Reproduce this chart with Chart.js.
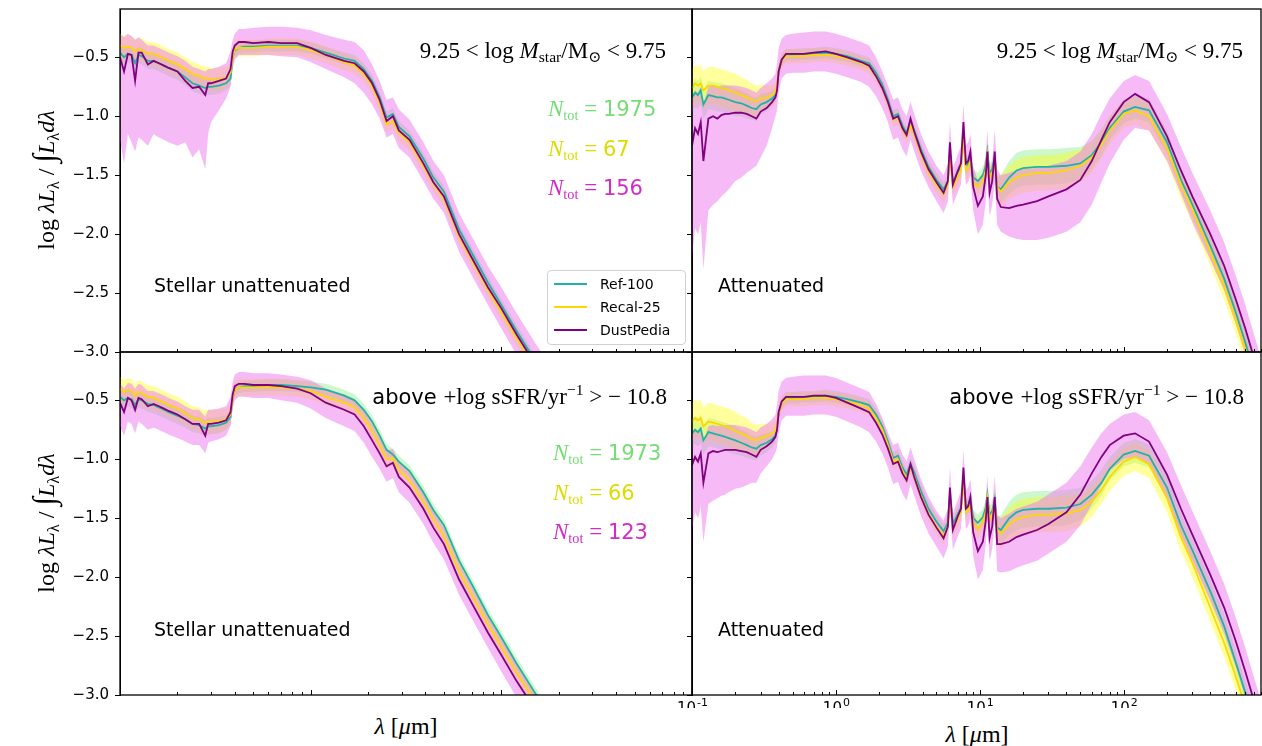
<!DOCTYPE html>
<html>
<head>
<meta charset="utf-8">
<script src="https://cdn.jsdelivr.net/npm/chart.js@4.4.0/dist/chart.umd.min.js"></script>
<style>
  body { margin: 0; width: 1262px; height: 746px; overflow: hidden; position: relative; background: #fff; font-family: "DejaVu Sans", sans-serif; }
  canvas { position: absolute; }
  .t { position: absolute; white-space: nowrap; line-height: 1; color: #000; }
  .serif { font-family: "Liberation Serif", "DejaVu Serif", serif; }
  .t sub { font-size: 68%; vertical-align: -0.28em; }
  .t sup { font-size: 68%; vertical-align: 0.55em; }
  #legend { position: absolute; border: 1px solid #d0d0d0; border-radius: 4px; background: rgba(255,255,255,0.85); font-size: 14px; }
  #legend div { position: absolute; left: 52px; line-height: 1; }
  #legend span { position: absolute; left: 6px; width: 33px; height: 0; border-top: 2px solid; }
</style>
</head>
<body>
<canvas id="tl" width="684" height="365" style="left:10px;top:0px"></canvas>
<canvas id="tr" width="601" height="365" style="left:662px;top:0px"></canvas>
<canvas id="bl" width="684" height="365" style="left:10px;top:343px"></canvas>
<canvas id="br" width="601" height="365" style="left:662px;top:343px"></canvas>

<div class="t serif" style="left:45px;top:180px;font-size:24px;transform:translate(-50%,-50%) rotate(-90deg)">log <i>λL</i><sub>λ</sub> / <span style="font-size:1.3em">∫</span><i>L</i><sub>λ</sub><i>dλ</i></div>
<div class="t serif" style="left:45px;top:523px;font-size:24px;transform:translate(-50%,-50%) rotate(-90deg)">log <i>λL</i><sub>λ</sub> / <span style="font-size:1.3em">∫</span><i>L</i><sub>λ</sub><i>dλ</i></div>

<div class="t serif" style="left:406px;top:726px;font-size:24px;transform:translate(-50%,-50%)"><i>λ</i> [<i>μ</i>m]</div>
<div class="t serif" style="left:977px;top:734px;font-size:24px;transform:translate(-50%,-50%)"><i>λ</i> [<i>μ</i>m]</div>

<div class="t serif" style="right:596px;top:39px;font-size:23px">9.25 &lt; log <i>M</i><sub>star</sub>/M<sub>⊙</sub> &lt; 9.75</div>
<div class="t serif" style="right:19px;top:39px;font-size:23px">9.25 &lt; log <i>M</i><sub>star</sub>/M<sub>⊙</sub> &lt; 9.75</div>
<div class="t" style="right:595px;top:382px;font-size:21px">above <span class="serif" style="font-size:23px">+log sSFR/yr<sup>−1</sup> &gt; − 10.8</span></div>
<div class="t" style="right:18px;top:382px;font-size:21px">above <span class="serif" style="font-size:23px">+log sSFR/yr<sup>−1</sup> &gt; − 10.8</span></div>

<div class="t" style="left:548px;top:97px;font-size:21px;color:#74dd74"><i class="serif" style="font-size:23px">N</i><sub class="serif">tot</sub><span class="serif" style="font-size:23px"> = </span>1975</div>
<div class="t" style="left:548px;top:137px;font-size:21px;color:#dcdc00"><i class="serif" style="font-size:23px">N</i><sub class="serif">tot</sub><span class="serif" style="font-size:23px"> = </span>67</div>
<div class="t" style="left:548px;top:176px;font-size:21px;color:#d42ac8"><i class="serif" style="font-size:23px">N</i><sub class="serif">tot</sub><span class="serif" style="font-size:23px"> = </span>156</div>
<div class="t" style="left:553px;top:441px;font-size:21px;color:#74dd74"><i class="serif" style="font-size:23px">N</i><sub class="serif">tot</sub><span class="serif" style="font-size:23px"> = </span>1973</div>
<div class="t" style="left:553px;top:481px;font-size:21px;color:#dcdc00"><i class="serif" style="font-size:23px">N</i><sub class="serif">tot</sub><span class="serif" style="font-size:23px"> = </span>66</div>
<div class="t" style="left:553px;top:520px;font-size:21px;color:#d42ac8"><i class="serif" style="font-size:23px">N</i><sub class="serif">tot</sub><span class="serif" style="font-size:23px"> = </span>123</div>

<div class="t" style="left:154px;top:276px;font-size:19px">Stellar unattenuated</div>
<div class="t" style="left:154px;top:620px;font-size:19px">Stellar unattenuated</div>
<div class="t" style="left:718px;top:276px;font-size:19px">Attenuated</div>
<div class="t" style="left:718px;top:620px;font-size:19px">Attenuated</div>

<div id="legend" style="left:547px;top:270px;width:137px;height:73px">
  <span style="top:12px;border-color:lightseagreen"></span><div style="top:6px">Ref-100</div>
  <span style="top:35px;border-color:gold"></span><div style="top:29px">Recal-25</div>
  <span style="top:58px;border-color:purple"></span><div style="top:52px">DustPedia</div>
</div>

<script>
// wavelength grids, micron
const lamS = [0.10,0.105,0.11,0.115,0.12,0.125,0.13,0.14,0.15,0.16,
  0.17,0.18,0.20,0.22,0.24,0.26,0.28,0.29,0.30,0.33,
  0.36,0.38,0.39,0.40,0.42,0.45,0.50,0.60,0.70,0.85,
  1.0,1.2,1.5,1.7,1.9,2.1,2.3,2.5,2.7,2.9,
  3.3,3.9,4.4,5.0,6.0,7.0,8.5,10,12,15,20];
const lamA = [0.10,0.105,0.11,0.115,0.12,0.13,0.14,0.15,0.16,0.17,
  0.18,0.20,0.22,0.24,0.26,0.28,0.30,0.33,0.36,0.38,
  0.39,0.40,0.42,0.45,0.50,0.60,0.70,0.85,1.0,1.2,
  1.5,1.7,1.9,2.1,2.3,2.5,2.7,2.9,3.1,3.3,
  3.5,3.9,4.4,5.0,5.6,6.0,6.2,6.5,7.0,7.4,
  7.7,8.0,8.3,8.6,9.0,9.7,10.5,11.0,11.3,11.7,
  12.2,12.7,13.2,14,16,18,20,25,30,40,
  50,60,70,80,100,120,150,200,250,300,
  400,500,600,700,800,900];

// top left: stellar unattenuated, mass bin
const tlRef = [-0.46,-0.50,-0.47,-0.48,-0.55,-0.48,-0.49,-0.53,-0.53,-0.55,
  -0.57,-0.59,-0.62,-0.67,-0.72,-0.74,-0.76,-0.75,-0.75,-0.74,
  -0.72,-0.68,-0.50,-0.44,-0.42,-0.41,-0.41,-0.40,-0.40,-0.40,
  -0.42,-0.46,-0.51,-0.53,-0.60,-0.70,-0.84,-1.01,-0.98,-1.09,
  -1.17,-1.36,-1.52,-1.64,-1.96,-2.16,-2.41,-2.60,-2.82,-3.07,-3.38];
const tlRecal = [-0.40,-0.42,-0.41,-0.42,-0.45,-0.43,-0.44,-0.47,-0.47,-0.49,
  -0.51,-0.53,-0.56,-0.60,-0.64,-0.66,-0.68,-0.68,-0.69,-0.69,
  -0.67,-0.63,-0.50,-0.43,-0.42,-0.42,-0.42,-0.41,-0.41,-0.41,
  -0.44,-0.48,-0.54,-0.57,-0.64,-0.74,-0.89,-1.07,-1.04,-1.14,
  -1.22,-1.42,-1.57,-1.70,-2.02,-2.22,-2.47,-2.66,-2.88,-3.12,-3.42];
const tlDP = [-0.50,-0.62,-0.47,-0.48,-0.70,-0.46,-0.46,-0.56,-0.53,-0.55,
  -0.57,-0.59,-0.62,-0.70,-0.76,-0.75,-0.82,-0.72,-0.72,-0.70,
  -0.68,-0.60,-0.45,-0.40,-0.37,-0.37,-0.38,-0.37,-0.38,-0.38,
  -0.42,-0.48,-0.53,-0.55,-0.62,-0.72,-0.86,-1.04,-1.00,-1.12,
  -1.20,-1.40,-1.56,-1.68,-2.00,-2.20,-2.45,-2.63,-2.85,-3.10,-3.40];
const tlDPHi = [-0.30,-0.33,-0.30,-0.32,-0.35,-0.33,-0.35,-0.40,-0.40,-0.42,
  -0.44,-0.46,-0.49,-0.53,-0.58,-0.60,-0.62,-0.60,-0.60,-0.58,
  -0.55,-0.45,-0.35,-0.30,-0.26,-0.26,-0.25,-0.24,-0.24,-0.25,
  -0.27,-0.31,-0.35,-0.37,-0.44,-0.56,-0.70,-0.86,-0.84,-0.94,
  -1.03,-1.22,-1.38,-1.50,-1.82,-2.02,-2.27,-2.45,-2.67,-2.92,-3.22];
const tlDPLo = [-1.20,-1.40,-1.15,-1.22,-1.30,-1.18,-1.20,-1.25,-1.15,-1.18,
  -1.20,-1.22,-1.25,-1.22,-1.35,-1.28,-1.45,-1.15,-1.05,-0.95,
  -0.85,-0.75,-0.60,-0.52,-0.48,-0.48,-0.48,-0.48,-0.49,-0.50,
  -0.54,-0.60,-0.67,-0.72,-0.80,-0.90,-1.02,-1.18,-1.15,-1.27,
  -1.35,-1.55,-1.70,-1.82,-2.15,-2.35,-2.60,-2.80,-3.02,-3.27,-3.57];

// bottom left: stellar unattenuated, sSFR cut
const blRef = [-0.47,-0.50,-0.48,-0.49,-0.54,-0.49,-0.50,-0.53,-0.54,-0.56,
  -0.58,-0.60,-0.63,-0.66,-0.70,-0.71,-0.74,-0.72,-0.72,-0.71,
  -0.69,-0.64,-0.48,-0.41,-0.39,-0.38,-0.38,-0.37,-0.37,-0.38,
  -0.39,-0.41,-0.46,-0.50,-0.58,-0.68,-0.80,-0.92,-0.96,-1.02,
  -1.10,-1.28,-1.43,-1.56,-1.86,-2.06,-2.32,-2.51,-2.73,-2.98,-3.30];
const blRecal = [-0.40,-0.43,-0.41,-0.42,-0.46,-0.43,-0.44,-0.47,-0.48,-0.50,
  -0.52,-0.54,-0.57,-0.61,-0.65,-0.66,-0.69,-0.68,-0.68,-0.68,
  -0.66,-0.62,-0.48,-0.41,-0.39,-0.39,-0.39,-0.39,-0.39,-0.40,
  -0.42,-0.47,-0.52,-0.56,-0.65,-0.76,-0.88,-1.00,-0.99,-1.09,
  -1.18,-1.36,-1.51,-1.65,-1.95,-2.15,-2.40,-2.59,-2.81,-3.05,-3.36];
const blDP = [-0.52,-0.60,-0.48,-0.50,-0.58,-0.48,-0.49,-0.55,-0.53,-0.55,
  -0.57,-0.59,-0.62,-0.66,-0.70,-0.70,-0.80,-0.70,-0.70,-0.69,
  -0.67,-0.60,-0.45,-0.38,-0.36,-0.36,-0.37,-0.37,-0.38,-0.40,
  -0.44,-0.52,-0.58,-0.62,-0.72,-0.84,-0.95,-1.06,-1.03,-1.15,
  -1.24,-1.42,-1.58,-1.72,-2.02,-2.22,-2.47,-2.66,-2.88,-3.12,-3.42];
const blDPHi = [-0.36,-0.40,-0.35,-0.36,-0.40,-0.36,-0.37,-0.42,-0.42,-0.44,
  -0.46,-0.48,-0.51,-0.55,-0.58,-0.58,-0.64,-0.58,-0.58,-0.57,
  -0.55,-0.47,-0.34,-0.28,-0.26,-0.26,-0.27,-0.27,-0.28,-0.30,
  -0.33,-0.40,-0.45,-0.49,-0.58,-0.70,-0.82,-0.93,-0.91,-1.02,
  -1.10,-1.28,-1.44,-1.58,-1.88,-2.08,-2.33,-2.52,-2.74,-2.98,-3.28];
const blDPLo = [-0.72,-0.80,-0.68,-0.70,-0.78,-0.68,-0.70,-0.75,-0.73,-0.75,
  -0.77,-0.79,-0.82,-0.85,-0.88,-0.88,-0.95,-0.86,-0.85,-0.83,
  -0.80,-0.72,-0.57,-0.50,-0.47,-0.47,-0.48,-0.48,-0.50,-0.52,
  -0.57,-0.65,-0.72,-0.76,-0.86,-0.98,-1.08,-1.19,-1.16,-1.28,
  -1.37,-1.55,-1.71,-1.85,-2.15,-2.35,-2.60,-2.80,-3.02,-3.26,-3.56];

// half widths of the simulation bands on the stellar grid
const sRefS = [0.07,0.07,0.07,0.07,0.07,0.07,0.07,0.07,0.07,0.07,
  0.07,0.07,0.07,0.07,0.07,0.07,0.07,0.07,0.07,0.07,
  0.06,0.06,0.05,0.05,0.05,0.05,0.05,0.05,0.05,0.05,
  0.05,0.05,0.05,0.05,0.05,0.05,0.05,0.05,0.05,0.05,
  0.05,0.05,0.05,0.05,0.05,0.05,0.05,0.05,0.05,0.05,0.05];
const sRecalS = [0.10,0.10,0.10,0.10,0.10,0.10,0.10,0.10,0.10,0.10,
  0.10,0.10,0.10,0.10,0.10,0.10,0.10,0.10,0.10,0.10,
  0.09,0.08,0.07,0.07,0.07,0.07,0.07,0.07,0.07,0.07,
  0.07,0.07,0.07,0.07,0.07,0.07,0.07,0.07,0.07,0.07,
  0.07,0.07,0.07,0.07,0.07,0.07,0.07,0.07,0.07,0.07,0.07];

// top right: attenuated, mass bin
const trRef = [-0.84,-0.80,-0.82,-0.78,-0.90,-0.82,-0.83,-0.84,-0.84,-0.85,
  -0.86,-0.88,-0.89,-0.91,-0.93,-0.94,-0.90,-0.88,-0.85,-0.82,
  -0.75,-0.62,-0.52,-0.48,-0.48,-0.47,-0.47,-0.46,-0.47,-0.49,
  -0.53,-0.55,-0.63,-0.73,-0.86,-1.00,-0.98,-1.08,-1.14,-1.05,
  -1.12,-1.28,-1.43,-1.54,-1.62,-1.55,-1.30,-1.56,-1.48,-1.42,
  -1.15,-1.42,-1.40,-1.35,-1.52,-1.55,-1.50,-1.42,-1.30,-1.48,
  -1.45,-1.35,-1.60,-1.62,-1.52,-1.46,-1.44,-1.43,-1.43,-1.42,
  -1.40,-1.33,-1.22,-1.10,-0.96,-0.92,-0.95,-1.22,-1.54,-1.75,
  -2.10,-2.38,-2.66,-2.92,-3.16,-3.36];
const trRecal = [-0.76,-0.72,-0.74,-0.72,-0.78,-0.74,-0.74,-0.75,-0.76,-0.77,
  -0.78,-0.80,-0.82,-0.84,-0.86,-0.87,-0.85,-0.84,-0.82,-0.80,
  -0.72,-0.62,-0.53,-0.49,-0.49,-0.49,-0.48,-0.48,-0.49,-0.51,
  -0.55,-0.58,-0.66,-0.76,-0.89,-1.03,-1.01,-1.11,-1.17,-1.08,
  -1.15,-1.32,-1.47,-1.58,-1.66,-1.58,-1.33,-1.60,-1.52,-1.46,
  -1.18,-1.46,-1.44,-1.38,-1.56,-1.60,-1.55,-1.46,-1.33,-1.52,
  -1.48,-1.38,-1.60,-1.64,-1.56,-1.52,-1.50,-1.48,-1.48,-1.46,
  -1.42,-1.35,-1.24,-1.12,-0.98,-0.95,-1.00,-1.27,-1.58,-1.79,
  -2.15,-2.44,-2.72,-2.98,-3.22,-3.42];
const trDP = [-1.25,-1.10,-1.15,-1.05,-1.38,-1.02,-1.00,-1.02,-0.99,-0.98,
  -0.98,-0.97,-0.97,-0.98,-1.00,-1.02,-0.96,-0.93,-0.88,-0.84,
  -0.78,-0.62,-0.52,-0.47,-0.47,-0.47,-0.46,-0.45,-0.47,-0.50,
  -0.54,-0.57,-0.66,-0.76,-0.88,-1.02,-1.00,-1.10,-1.16,-1.02,
  -1.13,-1.30,-1.45,-1.56,-1.65,-1.55,-1.22,-1.58,-1.47,-1.40,
  -1.05,-1.40,-1.38,-1.30,-1.60,-1.76,-1.68,-1.50,-1.30,-1.65,
  -1.55,-1.30,-1.70,-1.77,-1.78,-1.76,-1.75,-1.72,-1.68,-1.62,
  -1.54,-1.38,-1.20,-1.05,-0.88,-0.81,-0.88,-1.17,-1.46,-1.68,
  -2.00,-2.27,-2.55,-2.80,-3.04,-3.25];
const trDPHi = [-0.85,-0.78,-0.80,-0.75,-0.90,-0.75,-0.74,-0.75,-0.74,-0.74,
  -0.74,-0.74,-0.75,-0.76,-0.78,-0.80,-0.76,-0.72,-0.68,-0.64,
  -0.55,-0.42,-0.34,-0.31,-0.30,-0.29,-0.28,-0.28,-0.30,-0.33,
  -0.37,-0.40,-0.50,-0.62,-0.74,-0.86,-0.84,-0.94,-1.00,-0.88,
  -0.98,-1.15,-1.30,-1.42,-1.50,-1.40,-1.05,-1.44,-1.33,-1.25,
  -0.90,-1.25,-1.22,-1.15,-1.42,-1.55,-1.48,-1.32,-1.12,-1.48,
  -1.38,-1.12,-1.45,-1.50,-1.48,-1.46,-1.45,-1.44,-1.42,-1.38,
  -1.30,-1.15,-0.98,-0.85,-0.70,-0.65,-0.70,-0.98,-1.26,-1.48,
  -1.80,-2.07,-2.35,-2.60,-2.84,-3.05];
const trDPLo = [-2.20,-1.95,-2.00,-1.90,-2.30,-1.80,-1.75,-1.72,-1.68,-1.65,
  -1.62,-1.55,-1.52,-1.48,-1.45,-1.42,-1.35,-1.25,-1.10,-1.00,
  -0.95,-0.80,-0.68,-0.64,-0.63,-0.63,-0.62,-0.62,-0.64,-0.67,
  -0.71,-0.75,-0.83,-0.93,-1.05,-1.20,-1.18,-1.28,-1.34,-1.20,
  -1.30,-1.46,-1.60,-1.72,-1.82,-1.72,-1.40,-1.75,-1.65,-1.58,
  -1.25,-1.58,-1.56,-1.50,-1.80,-2.00,-1.92,-1.72,-1.52,-1.85,
  -1.75,-1.55,-1.92,-1.98,-2.02,-2.04,-2.05,-2.05,-2.03,-1.98,
  -1.90,-1.75,-1.56,-1.40,-1.20,-1.10,-1.12,-1.38,-1.66,-1.90,
  -2.22,-2.48,-2.76,-3.02,-3.26,-3.47];

// bottom right: attenuated, sSFR cut
const brRef = [-0.78,-0.75,-0.77,-0.74,-0.84,-0.77,-0.78,-0.79,-0.80,-0.81,
  -0.82,-0.84,-0.86,-0.88,-0.90,-0.91,-0.88,-0.86,-0.83,-0.80,
  -0.73,-0.61,-0.52,-0.48,-0.48,-0.47,-0.47,-0.46,-0.47,-0.49,
  -0.52,-0.54,-0.62,-0.72,-0.85,-0.99,-0.97,-1.07,-1.13,-1.04,
  -1.11,-1.27,-1.42,-1.53,-1.61,-1.54,-1.30,-1.55,-1.47,-1.41,
  -1.15,-1.41,-1.39,-1.34,-1.50,-1.54,-1.49,-1.41,-1.30,-1.47,
  -1.44,-1.34,-1.58,-1.60,-1.50,-1.45,-1.43,-1.42,-1.42,-1.41,
  -1.38,-1.30,-1.20,-1.08,-0.96,-0.93,-0.97,-1.24,-1.56,-1.77,
  -2.12,-2.42,-2.72,-2.98,-3.22,-3.42];
const brRecal = [-0.68,-0.65,-0.67,-0.65,-0.72,-0.68,-0.69,-0.70,-0.71,-0.72,
  -0.73,-0.76,-0.78,-0.80,-0.83,-0.84,-0.82,-0.80,-0.78,-0.76,
  -0.70,-0.61,-0.53,-0.49,-0.49,-0.49,-0.48,-0.48,-0.49,-0.51,
  -0.54,-0.57,-0.65,-0.75,-0.88,-1.02,-1.00,-1.10,-1.16,-1.07,
  -1.14,-1.31,-1.46,-1.57,-1.65,-1.57,-1.33,-1.59,-1.51,-1.45,
  -1.18,-1.45,-1.43,-1.37,-1.55,-1.59,-1.54,-1.45,-1.33,-1.51,
  -1.47,-1.37,-1.60,-1.63,-1.55,-1.51,-1.49,-1.47,-1.47,-1.46,
  -1.43,-1.36,-1.26,-1.15,-1.02,-0.98,-1.04,-1.33,-1.66,-1.88,
  -2.26,-2.56,-2.84,-3.10,-3.33,-3.50];
const brDP = [-1.05,-0.98,-1.02,-0.95,-1.20,-0.95,-0.93,-0.94,-0.93,-0.92,
  -0.92,-0.92,-0.93,-0.94,-0.96,-0.98,-0.92,-0.89,-0.85,-0.81,
  -0.75,-0.60,-0.51,-0.47,-0.47,-0.47,-0.46,-0.46,-0.48,-0.52,
  -0.57,-0.60,-0.69,-0.79,-0.91,-1.04,-1.02,-1.12,-1.18,-1.04,
  -1.15,-1.32,-1.47,-1.58,-1.67,-1.57,-1.24,-1.60,-1.49,-1.42,
  -1.07,-1.42,-1.40,-1.32,-1.62,-1.78,-1.70,-1.52,-1.32,-1.67,
  -1.57,-1.32,-1.72,-1.72,-1.70,-1.66,-1.64,-1.60,-1.55,-1.45,
  -1.30,-1.12,-0.98,-0.88,-0.80,-0.78,-0.85,-1.13,-1.42,-1.64,
  -1.98,-2.26,-2.54,-2.80,-3.04,-3.25];
const brDPHi = [-0.80,-0.74,-0.76,-0.72,-0.86,-0.72,-0.71,-0.72,-0.71,-0.71,
  -0.71,-0.71,-0.72,-0.73,-0.75,-0.77,-0.73,-0.70,-0.66,-0.62,
  -0.54,-0.42,-0.34,-0.31,-0.30,-0.29,-0.29,-0.29,-0.31,-0.35,
  -0.40,-0.43,-0.53,-0.65,-0.77,-0.88,-0.86,-0.96,-1.02,-0.90,
  -1.00,-1.17,-1.32,-1.44,-1.52,-1.42,-1.07,-1.46,-1.35,-1.27,
  -0.92,-1.27,-1.24,-1.17,-1.44,-1.57,-1.50,-1.34,-1.14,-1.50,
  -1.40,-1.14,-1.47,-1.50,-1.46,-1.42,-1.40,-1.36,-1.30,-1.20,
  -1.06,-0.90,-0.78,-0.70,-0.62,-0.60,-0.67,-0.94,-1.22,-1.44,
  -1.78,-2.06,-2.34,-2.60,-2.84,-3.05];
const brDPLo = [-1.60,-1.45,-1.50,-1.40,-1.70,-1.38,-1.35,-1.33,-1.31,-1.30,
  -1.28,-1.25,-1.24,-1.22,-1.20,-1.20,-1.12,-1.06,-1.00,-0.94,
  -0.90,-0.78,-0.67,-0.63,-0.63,-0.63,-0.62,-0.62,-0.64,-0.68,
  -0.73,-0.77,-0.85,-0.95,-1.07,-1.21,-1.19,-1.29,-1.35,-1.21,
  -1.31,-1.48,-1.63,-1.74,-1.84,-1.74,-1.42,-1.77,-1.66,-1.59,
  -1.25,-1.59,-1.57,-1.50,-1.82,-2.02,-1.94,-1.72,-1.52,-1.86,
  -1.76,-1.52,-1.95,-1.96,-1.95,-1.92,-1.90,-1.86,-1.80,-1.70,
  -1.56,-1.38,-1.22,-1.10,-1.00,-0.98,-1.05,-1.34,-1.64,-1.86,
  -2.20,-2.48,-2.76,-3.02,-3.26,-3.47];

// half widths of the simulation bands on the attenuated grid
const sRefA = [0.12,0.12,0.12,0.12,0.12,0.12,0.12,0.12,0.12,0.12,
  0.12,0.12,0.11,0.11,0.10,0.10,0.09,0.08,0.07,0.06,
  0.05,0.05,0.05,0.05,0.05,0.05,0.05,0.05,0.05,0.05,
  0.05,0.05,0.05,0.05,0.05,0.05,0.05,0.05,0.05,0.05,
  0.06,0.06,0.06,0.06,0.06,0.06,0.06,0.06,0.06,0.06,
  0.07,0.07,0.07,0.07,0.07,0.07,0.07,0.07,0.07,0.07,
  0.08,0.08,0.10,0.12,0.14,0.15,0.15,0.15,0.15,0.15,
  0.14,0.12,0.11,0.10,0.10,0.10,0.10,0.10,0.10,0.10,
  0.10,0.10,0.10,0.10,0.10,0.10];
const sRecalA = [0.16,0.16,0.16,0.16,0.16,0.16,0.16,0.16,0.16,0.16,
  0.16,0.16,0.15,0.15,0.14,0.13,0.12,0.10,0.09,0.08,
  0.06,0.06,0.06,0.06,0.06,0.06,0.06,0.06,0.06,0.06,
  0.06,0.06,0.06,0.06,0.06,0.06,0.06,0.06,0.06,0.06,
  0.07,0.07,0.07,0.07,0.07,0.07,0.07,0.07,0.07,0.07,
  0.08,0.08,0.08,0.08,0.08,0.08,0.08,0.08,0.08,0.08,
  0.09,0.09,0.11,0.13,0.14,0.15,0.15,0.15,0.15,0.15,
  0.14,0.13,0.12,0.12,0.12,0.12,0.12,0.12,0.12,0.12,
  0.12,0.12,0.12,0.12,0.12,0.12];

const xTickExp = [-1, 0, 1, 2];
const yTicks = [-3.0, -2.5, -2.0, -1.5, -1.0, -0.5];

const pts = (lam, v) => lam.map((x, i) => ({ x, y: v[i] }));
const off = (v, s, sign) => v.map((y, i) => y + sign * s[i]);

// frame, inward log ticks on x, and the 10^n labels
const deco = {
  id: 'deco',
  afterDraw(chart, args, opts) {
    const { ctx, chartArea: a, scales: { x } } = chart;
    ctx.save();
    ctx.strokeStyle = '#000';
    ctx.lineWidth = 1;
    for (let e = -1; e < 3; e++) {
      for (let k = 1; k < 10; k++) {
        const v = k * Math.pow(10, e);
        if (v < x.min || v > x.max) continue;
        const px = Math.round(x.getPixelForValue(v)) + 0.5;
        ctx.beginPath();
        ctx.moveTo(px, a.bottom);
        ctx.lineTo(px, a.bottom - (k === 1 ? 5 : 3));
        ctx.stroke();
      }
    }
    ctx.lineWidth = 1.3;
    ctx.strokeRect(a.left, a.top, a.right - a.left, a.bottom - a.top);
    if (opts.labels) {
      ctx.fillStyle = '#000';
      ctx.textBaseline = 'alphabetic';
      xTickExp.forEach(e => {
        const px = x.getPixelForValue(Math.pow(10, e));
        const sup = e < 0 ? '-' + (-e) : String(e);
        ctx.font = '15px "DejaVu Sans"';
        const w1 = ctx.measureText('10').width;
        ctx.font = '11px "DejaVu Sans"';
        const w2 = ctx.measureText(sup).width;
        const x0 = px - (w1 + w2) / 2;
        ctx.font = '15px "DejaVu Sans"';
        ctx.fillText('10', x0, a.bottom + 18);
        ctx.font = '11px "DejaVu Sans"';
        ctx.fillText(sup, x0 + w1 + 1, a.bottom + 11);
      });
    }
    ctx.restore();
  }
};

function panel(id, lam, xmax, ref, recal, dp, dpHi, dpLo, sRef, sRecal, yLabels, xLabels) {
  const line = (label, v, color, order) => ({
    label, data: pts(lam, v), borderColor: color, borderWidth: 1.8,
    pointRadius: 0, fill: false, tension: 0, order
  });
  const edge = (v, fill, color, order) => ({
    data: pts(lam, v), borderWidth: 0, pointRadius: 0, fill,
    backgroundColor: color, borderColor: 'transparent', tension: 0, order
  });
  new Chart(document.getElementById(id), {
    type: 'line',
    data: {
      datasets: [
        line('DustPedia', dp, 'purple', 0),
        line('Recal-25', recal, 'gold', 1),
        line('Ref-100', ref, 'lightseagreen', 2),
        edge(dpHi, '+1', 'rgba(238,130,238,0.55)', 3),
        edge(dpLo, false, 'rgba(238,130,238,0.55)', 3),
        edge(off(recal, sRecal, 1), '+1', 'rgba(255,255,0,0.38)', 4),
        edge(off(recal, sRecal, -1), false, 'rgba(255,255,0,0.38)', 4),
        edge(off(ref, sRef, 1), '+1', 'rgba(144,238,144,0.45)', 5),
        edge(off(ref, sRef, -1), false, 'rgba(144,238,144,0.45)', 5)
      ]
    },
    options: {
      responsive: false,
      animation: false,
      devicePixelRatio: 1,
      layout: { padding: { top: 9, bottom: 13, left: 0, right: 2 } },
      plugins: { legend: { display: false }, tooltip: { enabled: false }, deco: { labels: xLabels } },
      scales: {
        x: { type: 'logarithmic', min: 0.1, max: xmax, display: false },
        y: {
          type: 'linear', min: -3, max: -0.09,
          afterFit: s => { s.width = yLabels ? 110 : 30; s.paddingTop = 0; s.paddingBottom = 0; },
          afterBuildTicks: s => { s.ticks = yTicks.map(v => ({ value: v })); },
          grid: { drawOnChartArea: false, drawTicks: true, tickLength: 5, color: '#000', lineWidth: 1 },
          border: { display: true, color: '#000', width: 1 },
          ticks: {
            display: yLabels, padding: 6, color: '#000',
            font: { family: 'DejaVu Sans', size: 15 },
            callback: v => v.toFixed(1).replace('-', '\u2212')
          }
        }
      }
    },
    plugins: [deco]
  });
}

panel('tl', lamS, 100, tlRef, tlRecal, tlDP, tlDPHi, tlDPLo, sRefS, sRecalS, true, false);
panel('tr', lamA, 900, trRef, trRecal, trDP, trDPHi, trDPLo, sRefA, sRecalA, false, false);
panel('bl', lamS, 100, blRef, blRecal, blDP, blDPHi, blDPLo, sRefS, sRecalS, true, false);
panel('br', lamA, 900, brRef, brRecal, brDP, brDPHi, brDPLo, sRefA, sRecalA, false, true);
</script>
</body>
</html>
